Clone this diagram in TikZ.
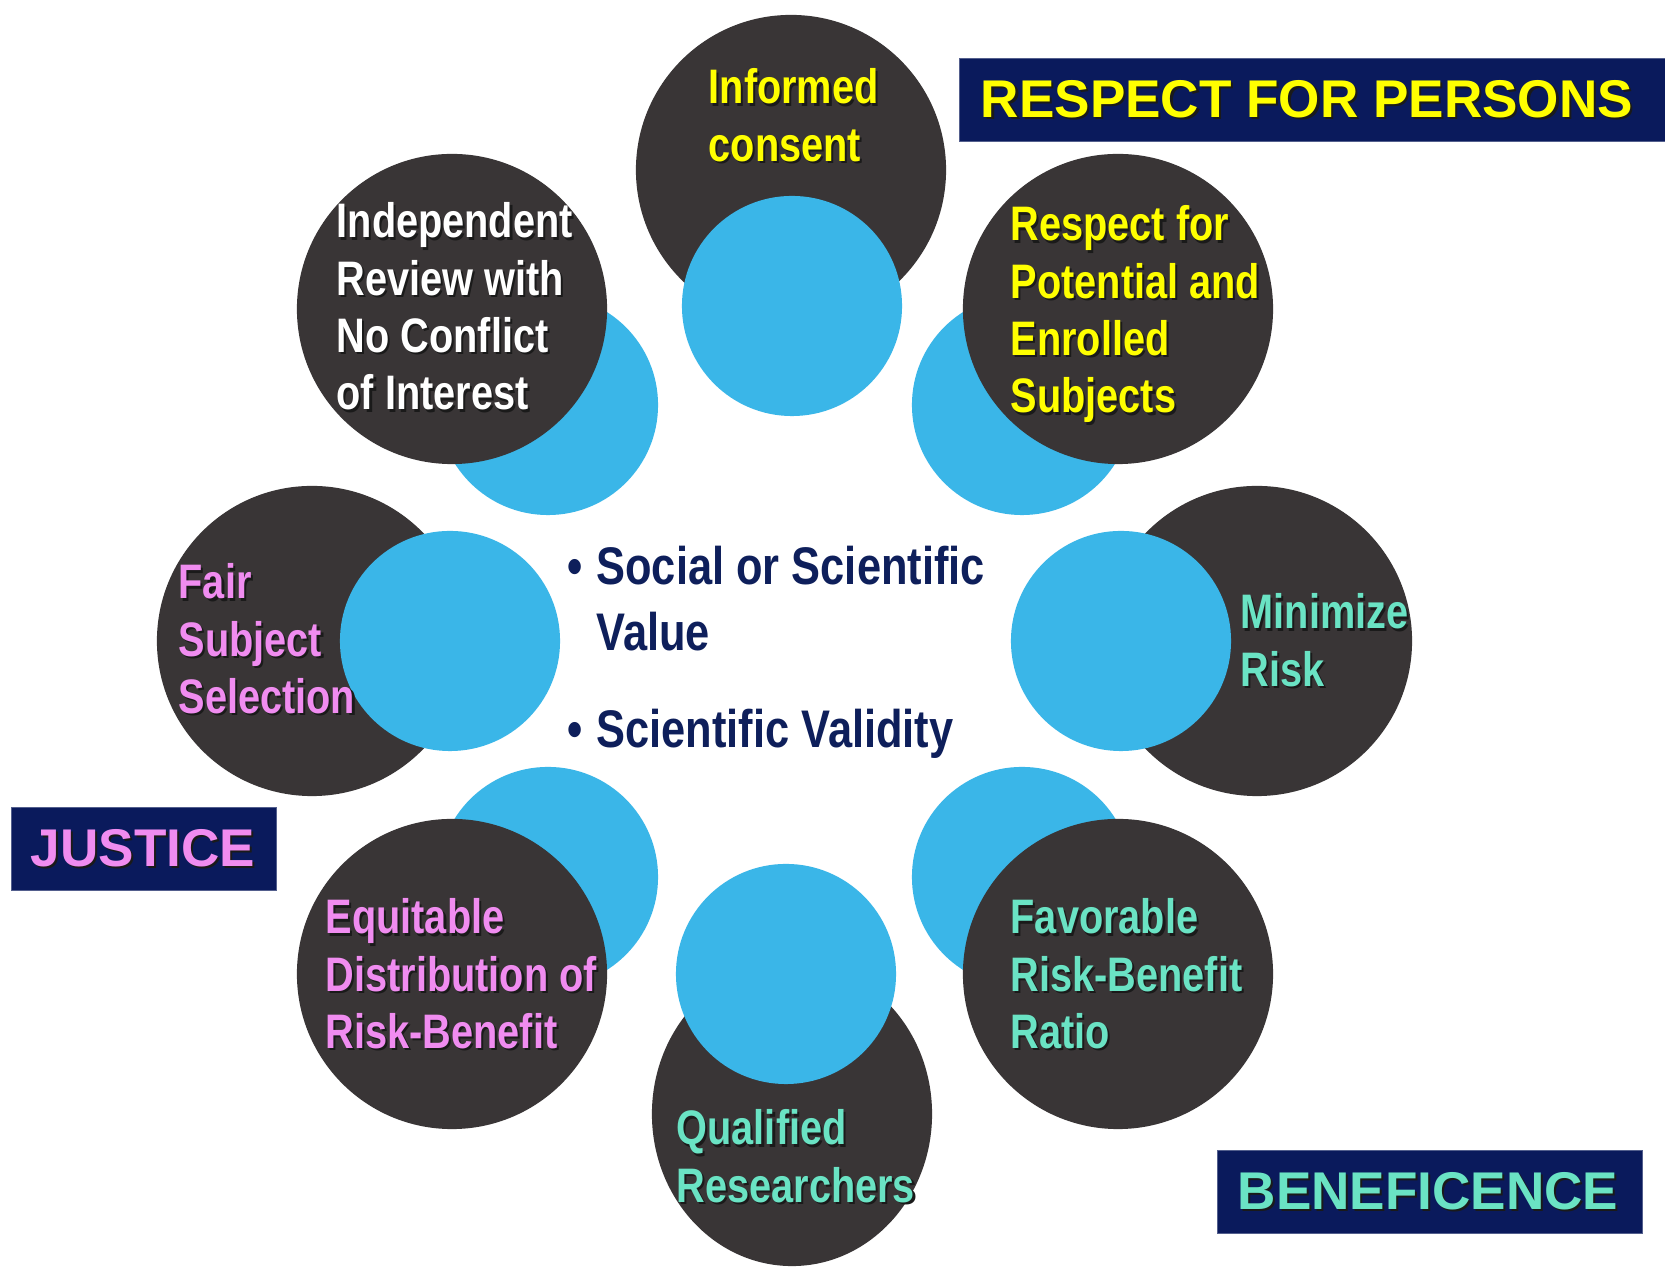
\documentclass[tikz,border=0pt]{standalone}
\usepackage{fontspec}
\setmainfont{Liberation Sans}
\newfontfamily\narrowfont[FakeStretch=0.82]{Liberation Sans}
\usetikzlibrary{shapes.geometric}

\definecolor{discgray}{HTML}{393536}
\definecolor{discblue}{HTML}{3AB6E8}
\definecolor{navy}{HTML}{0A1A5C}
\definecolor{inknavy}{HTML}{0E1F5B}
\definecolor{respectc}{HTML}{FFFF00}
\definecolor{justicec}{HTML}{F08CF0}
\definecolor{benefitc}{HTML}{6AE3C4}
\definecolor{shadowc}{HTML}{1A1A1A}

% left-aligned block of lines whose baseline is the first line
\newcommand{\linesof}[1]{\begin{tabular}[t]{@{}l@{}}#1\end{tabular}}
% text with a small dark drop shadow
\newcommand{\dropped}[1]{\makebox[0pt][l]{\kern0.6pt\raisebox{-0.6pt}{\color{shadowc}#1}}#1}

\tikzset{
  darkdisc/.style={circle, fill=discgray, minimum size=3.1cm, inner sep=0pt},
  bluedisc/.style={circle, fill=discblue, minimum size=2.2cm, inner sep=0pt},
  disclabel/.style={anchor=base west, inner sep=0pt,
    font=\narrowfont\bfseries\fontsize{13.77pt}{16.3pt}\selectfont},
  coretext/.style={anchor=base west, inner sep=0pt, text=inknavy,
    font=\narrowfont\bfseries\fontsize{15.05pt}{18.5pt}\selectfont},
  principlebox/.style={fill=navy, draw=navy!70!white, line width=0.3pt,
    anchor=north west, inner sep=0pt},
  principle/.style={inner sep=0pt, font=\bfseries\fontsize{15.1pt}{18pt}\selectfont},
}

\begin{document}
\begin{tikzpicture}[x=0.01cm, y=-0.01cm]
\fill[white] (0,0) rectangle (1665,1268);
\useasboundingbox (0,0) rectangle (1665,1268);

% discs on the four axes: blue disc over the dark one
\node[darkdisc] (dtop)   at (791,170)  {};
\node[bluedisc] (btop)   at (792,306)  {};
\node[darkdisc] (dright) at (1257,641) {};
\node[bluedisc] (bright) at (1121,641) {};
\node[ellipse, fill=discgray, inner sep=0pt, minimum width=2.8cm, minimum height=3.04cm]
  (dbot) at (792,1114) {};
\node[bluedisc] (bbot)   at (786,974)  {};
\node[darkdisc] (dleft)  at (312,641)  {};
\node[bluedisc] (bleft)  at (450,641)  {};

% discs on the diagonals: dark disc over the blue one
\node[bluedisc] (bur) at (1022,405) {};
\node[darkdisc] (dur) at (1118,309) {};
\node[bluedisc] (blr) at (1022,877) {};
\node[darkdisc] (dlr) at (1118,974) {};
\node[bluedisc] (bll) at (548,877)  {};
\node[darkdisc] (dll) at (452,974)  {};
\node[bluedisc] (bul) at (548,405)  {};
\node[darkdisc] (dul) at (452,309)  {};

% labels of the dark discs
\node[disclabel, text=respectc] (informed) at (708,104)
  {\dropped{\linesof{Informed\\consent}}};
\node[disclabel, text=respectc] (respectfor) at (1010,241)
  {\dropped{\linesof{Respect for\\Potential and\\Enrolled\\Subjects}}};
\node[disclabel, text=white] (review) at (336,238)
  {\dropped{\linesof{Independent\\Review with\\No Conflict\\of Interest}}};
\node[disclabel, text=justicec] (fair) at (178,599)
  {\dropped{\linesof{Fair\\Subject\\Selection}}};
\node[disclabel, text=benefitc] (minimize) at (1240,629)
  {\dropped{\linesof{Minimize\\Risk}}};
\node[disclabel, text=justicec] (equitable) at (325,934)
  {\dropped{\linesof{Equitable\\Distribution of\\Risk-Benefit}}};
\node[disclabel, text=benefitc] (favorable) at (1010,934)
  {\dropped{\linesof{Favorable\\Risk-Benefit\\Ratio}}};
\node[disclabel, text=benefitc] (qualified) at (676,1145)
  {\dropped{\linesof{Qualified\\Researchers}}};

% centre statements
\node[coretext] (socialvalue) at (567,585)
  {\begin{tabular}[t]{@{}l@{}l@{}}\makebox[8.2pt][l]{•}&Social or Scientific\\&Value\end{tabular}};
\node[coretext] (validity) at (567,748)
  {\makebox[8.2pt][l]{•}Scientific Validity};

% principle boxes
\node[principlebox, minimum width=7.06cm, minimum height=0.83cm] (rfpbox) at (959,58) {};
\node[principle, text=respectc] (rfp) at (1307,100) {\dropped{RESPECT FOR PERSONS}};
\node[principlebox, minimum width=2.65cm, minimum height=0.83cm] (justbox) at (11,807) {};
\node[principle, text=justicec] (justice) at (143,849) {\dropped{JUSTICE}};
\node[principlebox, minimum width=4.25cm, minimum height=0.83cm] (benebox) at (1217,1150) {};
\node[principle, text=benefitc] (beneficence) at (1428,1192) {\dropped{BENEFICENCE}};
\end{tikzpicture}
\end{document}
